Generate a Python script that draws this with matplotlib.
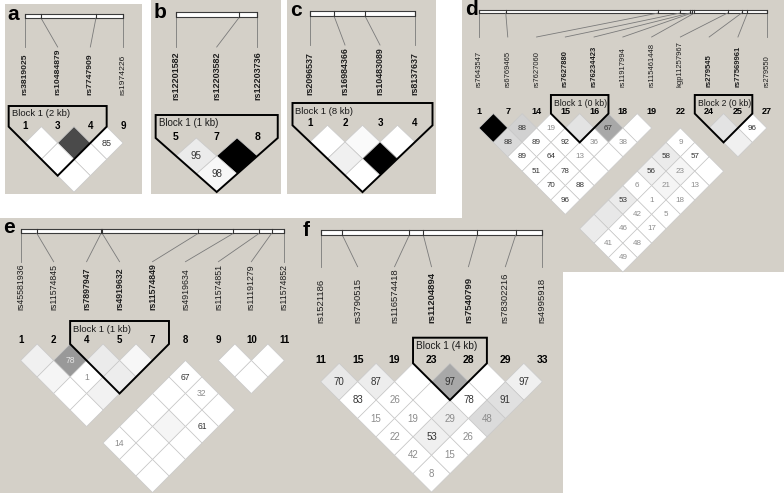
import matplotlib
matplotlib.use("Agg")
import matplotlib.pyplot as plt
from matplotlib.patches import Polygon, Rectangle

plt.rcParams['font.family'] = ['Liberation Sans', 'DejaVu Sans']

BG = '#d4d0c8'

# ---- panel a ----
a_snps = ["rs3819025", "rs10484879", "rs7747909", "rs1974226"]
a_nums = ["1", "3", "4", "9"]
a_pos = [0.0, 0.163, 0.724, 1.0]
a_blocks = [(0, 2, "Block 1 (2 kb)")]
# D' by diagonal: dp[k][i] is the pair (i, i+k+1); 100 = not printed, None = no data
a_dp = [[100, 100, 85], [100, 100], [100]]
a_r2 = [[0, 71, 0], [0, 0], [0]]

# ---- panel b ----
b_snps = ["rs12201582", "rs12203582", "rs12203736"]
b_nums = ["5", "7", "8"]
b_pos = [0.0, 0.78, 1.0]
b_blocks = [(0, 2, "Block 1 (1 kb)")]
b_dp = [[95, 100], [98]]
b_r2 = [[8, 100], [3]]

# ---- panel c ----
c_snps = ["rs2096537", "rs16984366", "rs10483089", "rs8137637"]
c_nums = ["1", "2", "3", "4"]
c_pos = [0.0, 0.229, 0.524, 1.0]
c_blocks = [(0, 3, "Block 1 (8 kb)")]
c_dp = [[100, 100, 100], [100, 100], [100]]
c_r2 = [[0, 2, 0], [6, 100], [0]]

# ---- panel d ----
d_snps = ["rs7643547", "rs6769465", "rs7627060", "rs7627880", "rs76234423",
          "rs11917994", "rs115461448", "kgp11257967", "rs279545", "rs77569961",
          "rs279550"]
d_nums = ["1", "7", "14", "15", "16", "18", "19", "22", "24", "25", "27"]
d_pos = [0.0, 0.093, 0.623, 0.699, 0.733, 0.740, 0.749, 0.864, 0.913, 0.933, 1.0]
d_blocks = [(3, 4, "Block 1 (0 kb)"), (8, 9, "Block 2 (0 kb)")]
d_dp = [
    [100, 88, 19, 100, 67, 100, None, None, 100, 96],
    [88, 89, 92, 36, 38, None, 9, None, 100],
    [89, 64, 13, 100, None, 58, 57, None],
    [51, 78, 100, None, 56, 23, 100],
    [70, 88, None, 6, 21, 13],
    [96, None, 53, 1, 18],
    [None, 100, 42, 5],
    [100, 46, 17],
    [41, 48],
    [49],
]
d_r2 = [
    [100, 18, 0, 11, 34, 0, 0, 0, 11, 0],
    [15, 0, 0, 0, 0, 0, 0, 0, 6],
    [0, 0, 0, 0, 0, 8, 0, 0],
    [0, 0, 0, 0, 6, 4, 0],
    [0, 0, 0, 0, 4, 0],
    [0, 0, 8, 0, 0],
    [0, 9, 0, 0],
    [8, 0, 0],
    [0, 0],
    [0],
]

# ---- panel e ----
e_snps = ["rs45581936", "rs11574845", "rs7897947", "rs4919632", "rs11574849",
          "rs4919634", "rs11574851", "rs11191279", "rs11574852"]
e_nums = ["1", "2", "4", "5", "7", "8", "9", "10", "11"]
e_pos = [0.0, 0.061, 0.305, 0.309, 0.674, 0.807, 0.905, 0.952, 1.0]
e_blocks = [(2, 4, "Block 1 (1 kb)")]
e_dp = [
    [100, 78, 100, 100, None, None, 100, 100],
    [100, 1, 100, None, 67, None, 100],
    [100, 100, None, 100, 32, None],
    [100, None, 100, 100, 100],
    [None, 100, 100, 61],
    [14, 100, 100],
    [100, 100],
    [100],
]
e_r2 = [
    [6, 40, 8, 3, 0, 0, 0, 0],
    [4, 0, 7, 0, 0, 0, 0],
    [0, 5, 0, 0, 0, 0],
    [0, 0, 0, 0, 0],
    [0, 0, 4, 0],
    [0, 0, 0],
    [0, 0],
    [0],
]

# ---- panel f ----
f_snps = ["rs1521186", "rs3790515", "rs116574418", "rs11204894", "rs7540799",
          "rs78302216", "rs4995918"]
f_nums = ["11", "15", "19", "23", "28", "29", "33"]
f_pos = [0.0, 0.0975, 0.400, 0.463, 0.707, 0.880, 1.0]
f_blocks = [(3, 4, "Block 1 (4 kb)")]
f_dp = [
    [70, 87, 100, 97, 100, 97],
    [83, 26, 100, 78, 91],
    [15, 19, 29, 48],
    [22, 53, 26],
    [42, 15],
    [8],
]
f_r2 = [
    [9, 7, 0, 34, 0, 6],
    [0, 0, 0, 0, 12],
    [0, 0, 7, 14],
    [0, 6, 0],
    [0, 0],
    [0],
]


def draw_panel(ax, letter, snps, nums, pos, blocks, dp, r2, lay):
    n = len(snps)
    dx = (lay['x1'] - lay['x0']) / (n - 1)
    hx = dx / 2.0
    hy = lay['hy']
    yc1 = lay['yc1']
    xs = [lay['x0'] + i * dx for i in range(n)]
    inblock = set()
    for s, e, name in blocks:
        inblock.update(range(s, e + 1))

    ax.text(lay['letter'][0], lay['letter'][1], letter, fontsize=15,
            fontweight='bold', ha='left', va='baseline')

    # physical map bar with ticks and connector lines
    ytop, ybot = lay['bar']
    ax.add_patch(Rectangle((xs[0], ytop), xs[-1] - xs[0], ybot - ytop,
                           fc='white', ec='#3c3c3c', lw=0.8, zorder=2))
    for i in range(n):
        px = xs[0] + pos[i] * (xs[-1] - xs[0])
        ax.plot([px, px], [ytop, ybot], color='#333333', lw=0.8, zorder=3)
        ax.plot([px, xs[i]], [ybot, lay['line_end']], color='#7a7a7a', lw=0.6)
        ax.text(xs[i], lay['label_y'], snps[i], rotation=90, ha='center',
                va='bottom', fontsize=lay['lfs'], color='#1e1e1e',
                fontweight='bold' if i in inblock else 'normal')
        ax.text(xs[i], yc1 - hy - lay['num_off'], nums[i], ha='center',
                va='center', fontsize=lay['nfs'], fontweight='bold')

    # LD diamonds
    for k, row in enumerate(dp):
        for i, val in enumerate(row):
            if val is None:
                continue
            j = i + k + 1
            cx = (xs[i] + xs[j]) / 2.0
            cy = yc1 + k * hy
            g = 1.0 - r2[k][i] / 100.0
            ax.add_patch(Polygon([(cx, cy - hy), (cx + hx, cy), (cx, cy + hy),
                                  (cx - hx, cy)], closed=True, fc=(g, g, g),
                                 ec='#c9c9c9', lw=0.5, zorder=2))
            if val < 100:
                if r2[k][i] >= 38:
                    tc = '#e6e6e6'
                elif val >= 50:
                    tc = '#333333'
                else:
                    tc = '#8c8c8c'
                ax.text(cx, cy, str(val), ha='center', va='center',
                        fontsize=lay['cfs'], color=tc, zorder=4)

    # haplotype blocks
    for s, e, name in blocks:
        xl = xs[s] - hx
        xr = xs[e] + hx
        bt = lay['btop']
        apex = ((xs[s] + xs[e]) / 2.0, yc1 + (e - s) * hy)
        ax.add_patch(Polygon([(xl, bt), (xr, bt), (xr, yc1 - hy), apex,
                              (xl, yc1 - hy)], closed=True, fill=False,
                             ec='black', lw=1.4, zorder=5))
        ax.text(xl + 3, bt + 8, name, ha='left', va='center',
                fontsize=lay['bfs'], color='#1a1a1a')


fig = plt.figure(figsize=(7.84, 4.93), dpi=100)
ax = fig.add_axes([0, 0, 1, 1])
ax.set_xlim(0, 784)
ax.set_ylim(493, 0)
ax.axis('off')

# grey panel backgrounds
for x, y, w, h in [(4.7, 4, 137.3, 190), (151, 0, 130, 194), (287, 0, 149, 194),
                   (462, 0, 322, 272), (0, 218, 563, 275)]:
    ax.add_patch(Rectangle((x, y), w, h, fc=BG, ec='none', zorder=0))

lay_a = dict(letter=(7, 20), x0=25, x1=123, bar=(14, 18), line_end=47,
             label_y=95, btop=106, yc1=143, hy=16.35, num_off=1,
             lfs=6.1, nfs=7, cfs=6.5, bfs=6.8)
lay_b = dict(letter=(154, 18), x0=176, x1=257.4, bar=(12, 17), line_end=47,
             label_y=100, btop=115, yc1=156, hy=18, num_off=1,
             lfs=6.5, nfs=7.5, cfs=7, bfs=7)
lay_c = dict(letter=(290, 16), x0=310, x1=415, bar=(11, 16), line_end=45,
             label_y=95, btop=103, yc1=142, hy=16.7, num_off=2,
             lfs=6.4, nfs=7, cfs=6.5, bfs=6.8)
lay_d = dict(letter=(465, 15), x0=479, x1=766.7, bar=(9.5, 13), line_end=37,
             label_y=87, btop=95, yc1=128, hy=14.4, num_off=2,
             lfs=5.5, nfs=6.5, cfs=5.8, bfs=6.2)
lay_e = dict(letter=(3, 233), x0=20.7, x1=284.3, bar=(228.5, 233.3),
             line_end=261.7, label_y=310, btop=321, yc1=360.5, hy=16.5,
             num_off=4, lfs=6.3, nfs=7, cfs=6.2, bfs=6.8)
lay_f = dict(letter=(303, 236), x0=320.7, x1=542.3, bar=(230, 235),
             line_end=266.7, label_y=323, btop=337.7, yc1=381.7, hy=18.4,
             num_off=3, lfs=6.8, nfs=7.5, cfs=7, bfs=7.2)

draw_panel(ax, 'a', a_snps, a_nums, a_pos, a_blocks, a_dp, a_r2, lay_a)
draw_panel(ax, 'b', b_snps, b_nums, b_pos, b_blocks, b_dp, b_r2, lay_b)
draw_panel(ax, 'c', c_snps, c_nums, c_pos, c_blocks, c_dp, c_r2, lay_c)
draw_panel(ax, 'd', d_snps, d_nums, d_pos, d_blocks, d_dp, d_r2, lay_d)
draw_panel(ax, 'e', e_snps, e_nums, e_pos, e_blocks, e_dp, e_r2, lay_e)
draw_panel(ax, 'f', f_snps, f_nums, f_pos, f_blocks, f_dp, f_r2, lay_f)

fig.savefig('out.png', dpi=100, facecolor='white')
